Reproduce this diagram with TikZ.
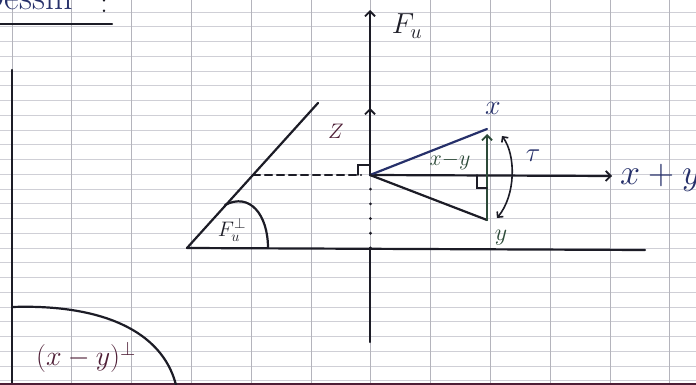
\RequirePackage{fix-cm}
\documentclass[tikz,border=0pt]{standalone}
\usetikzlibrary{arrows.meta}
\definecolor{ink}{HTML}{1C1C26}
\definecolor{navy}{HTML}{26306A}
\definecolor{moss}{HTML}{2C4A38}
\definecolor{wine}{HTML}{4E1E36}
\definecolor{gridh}{HTML}{CFCFD6}
\definecolor{gridv}{HTML}{B4B4BC}
\tikzset{
  pen/.style={draw=ink, line width=2.2pt, line cap=round},
  tip/.style={-{Straight Barb[length=5pt,width=10pt,line width=1.8pt]}},
  lbl/.style={inner sep=1pt, font=\fontsize{24}{24}\selectfont},
}

\begin{document}
\begin{tikzpicture}[x=1pt, y=-1pt]
    \clip (0,0) rectangle (696,385);
    \fill[white] (0,0) rectangle (696,385);

    % papier
    \foreach \k in {0,...,25}
        \draw[gridh, line width=0.7pt] (0,{12+14.75*\k}) -- (696,{12+14.75*\k});
    \foreach \k in {0,...,11}
        \draw[gridv, line width=0.8pt] ({12+59.8*\k},0) -- ({12+59.8*\k},385);

    % titre
    \node[lbl, navy, anchor=base east, font=\fontsize{36}{36}\selectfont] (title) at (74,10) {Dessin};
    \node[lbl, ink, anchor=base, font=\fontsize{30}{30}\selectfont] (colon) at (104,13) {:};
    \draw[pen] (0,24) -- (112,24);

    % (x-y) orthogonal
    \draw[pen] (12,70) -- (12,385);
    \draw[pen, draw=wine] (0,384) -- (696,384);
    \draw[pen] (12,307) .. controls (100,304) and (162,330) .. (176,385);
    \node[lbl, wine, font=\fontsize{28}{28}\selectfont] (xyperp) at (86,357) {$(x-y)^{\perp}$};

    % points
    \coordinate (O) at (370,175);
    \coordinate (Ftop) at (370,10);
    \coordinate (Fbot) at (370,342);
    \coordinate (Fmid) at (370,248);
    \coordinate (Zend) at (370,108);
    \coordinate (Xv) at (487,129);
    \coordinate (Yv) at (487,220);
    \coordinate (Xtip) at (487,134);
    \coordinate (Sum) at (612,176);
    \coordinate (A) at (187,248);
    \coordinate (B) at (318,103);
    \coordinate (Aend) at (645,250);
    \coordinate (D) at (253,175);
    \coordinate (Dend) at (361,175);
    \coordinate (T1) at (502,136);
    \coordinate (T2) at (497,218);

    % axes
    \draw[pen] (Fbot) -- (Fmid);
    \draw[pen, line width=3pt, dash pattern=on 0.1pt off 14.6pt] (Fmid) -- (O);
    \draw[pen, tip] (O) -- (Ftop);
    \draw[pen, tip] (O) -- (Zend);
    \draw[pen, tip] (O) -- (Sum);
    \node[lbl, ink, font=\fontsize{29}{29}\selectfont] (Fu) at (407,26) {$F_u$};
    \node[lbl, wine, font=\fontsize{21}{21}\selectfont] (z) at (336,131) {$Z$};
    \node[lbl, navy, anchor=base west, font=\fontsize{36}{36}\selectfont] (xplusy) at (619,184) {$x+y$};

    % plan F_u orthogonal
    \draw[pen] (A) -- (B);
    \draw[pen] (A) -- (Aend);
    \draw[pen, dash pattern=on 7pt off 5pt] (D) -- (Dend);
    \draw[pen, line width=1.5pt] (358,175) -- (358,165) -- (O |- 0,165);
    \draw[pen] (225,205) .. controls (250,192) and (268,215) .. (268,248);
    \node[lbl, ink, font=\fontsize{21}{21}\selectfont] (Fuperp) at (232,230) {$F_u^{\perp}$};

    % vecteurs x et y
    \draw[pen, draw=navy] (O) -- (Xv);
    \draw[pen] (O) -- (Yv);
    \draw[pen, draw=moss, tip] (Yv) -- (Xtip);
    \draw[pen, line width=1.5pt] (477,175) -- (477,188) -- (487,188);
    \draw[pen, line width=1.6pt, {Straight Barb[length=4pt,width=8pt]}-{Straight Barb[length=4pt,width=8pt]}]
        (T1) .. controls (516,155) and (516,195) .. (T2);
    \node[lbl, navy, font=\fontsize{28}{28}\selectfont] (x) at (493,108) {$x$};
    \node[lbl, moss] (y) at (501,238) {$y$};
    \node[lbl, moss, font=\fontsize{22}{22}\selectfont] (xmy) at (450,161) {$x{-}y$};
    \node[lbl, navy, font=\fontsize{27}{27}\selectfont] (tau) at (533,156) {$\tau$};
\end{tikzpicture}
\end{document}
